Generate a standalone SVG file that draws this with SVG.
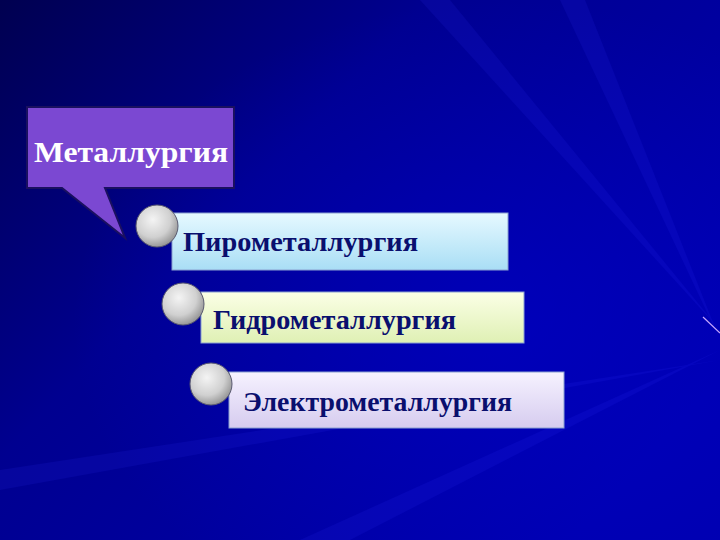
<svg xmlns="http://www.w3.org/2000/svg" width="720" height="540" viewBox="0 0 720 540">
<defs>
<linearGradient id="bg" x1="0" y1="0" x2="1" y2="0.7">
<stop offset="0" stop-color="#000050"/>
<stop offset="0.4" stop-color="#000090"/>
<stop offset="1" stop-color="#0000b0"/>
</linearGradient>
<radialGradient id="glow" cx="0.7" cy="0.6" r="0.6">
<stop offset="0" stop-color="#0000c8" stop-opacity="0.6"/>
<stop offset="1" stop-color="#0000c8" stop-opacity="0"/>
</radialGradient>
<radialGradient id="ball" cx="0.4" cy="0.35" r="0.7">
<stop offset="0" stop-color="#f4f4f4"/>
<stop offset="0.6" stop-color="#d0d0d0"/>
<stop offset="1" stop-color="#8e8e8e"/>
</radialGradient>
<linearGradient id="g1" x1="0" y1="0" x2="0" y2="1">
<stop offset="0" stop-color="#e6f9ff"/>
<stop offset="1" stop-color="#a9def5"/>
</linearGradient>
<linearGradient id="g2" x1="0" y1="0" x2="0" y2="1">
<stop offset="0" stop-color="#fbffe6"/>
<stop offset="1" stop-color="#dff0b4"/>
</linearGradient>
<linearGradient id="g3" x1="0" y1="0" x2="0" y2="1">
<stop offset="0" stop-color="#f6f2ff"/>
<stop offset="1" stop-color="#d6ccef"/>
</linearGradient>
</defs>
<style>
.box{stroke:#8aa0d0;stroke-width:1}
.lbl{font-family:"Liberation Serif","Times New Roman",serif;font-weight:bold;font-size:28px;fill:#0a0f6e}
.ball{fill:url(#ball);stroke:#5a5a70;stroke-width:1}
</style>
<rect width="720" height="540" fill="url(#bg)"/>
<rect width="720" height="540" fill="url(#glow)"/>
<g opacity="0.12" fill="#3030ff">
<polygon points="720,330 420,0 450,0"/>
<polygon points="720,340 560,0 585,0"/>
<polygon points="720,350 300,540 350,540"/>
<polygon points="720,360 0,470 0,490"/>
</g>
<line x1="703" y1="317" x2="720" y2="333" stroke="#c8a8ff" stroke-width="1.2"/>
<g id="metallurgy">
<path d="M27,107 H234 V188 H105 L125,238 L62,188 H27 Z" fill="#7b48d2" stroke="#1a1060" stroke-width="2"/>
<text x="34" y="162" font-family="'Liberation Serif','Times New Roman',serif" font-weight="bold" font-size="30" fill="#ffffff" textLength="194" lengthAdjust="spacingAndGlyphs">Металлургия</text>
</g>
<g id="pyro">
<rect class="box" x="172" y="213" width="336" height="57" fill="url(#g1)"/>
<circle class="ball" cx="157" cy="226" r="21"/>
<text class="lbl" x="183" y="251" textLength="235" lengthAdjust="spacingAndGlyphs">Пирометаллургия</text>
</g>
<g id="hydro">
<rect class="box" x="201" y="292" width="323" height="51" fill="url(#g2)"/>
<circle class="ball" cx="183" cy="304" r="21"/>
<text class="lbl" x="213" y="329" textLength="243" lengthAdjust="spacingAndGlyphs">Гидрометаллургия</text>
</g>
<g id="electro">
<rect class="box" x="229" y="372" width="335" height="56" fill="url(#g3)"/>
<circle class="ball" cx="211" cy="384" r="21"/>
<text class="lbl" x="243" y="411" textLength="269" lengthAdjust="spacingAndGlyphs">Электрометаллургия</text>
</g>
<g id="connectors"/>
</svg>
